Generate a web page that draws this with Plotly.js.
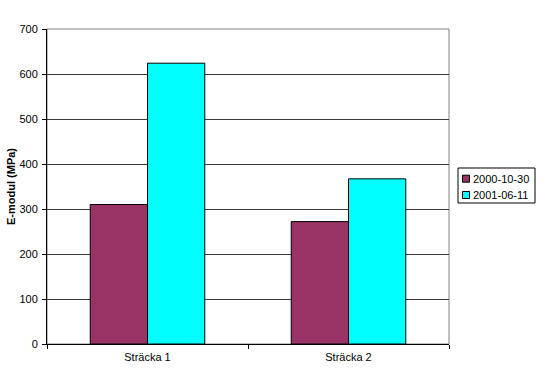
<!DOCTYPE html>
<html>
<head>
<meta charset="utf-8">
<script src="https://cdn.plot.ly/plotly-3.0.1.min.js"></script>
<style>html,body{margin:0;padding:0;background:#fff;}#chart{width:548px;height:383px;}</style>
</head>
<body>
<div id="chart"></div>
<script>
var categories = ['Sträcka 1', 'Sträcka 2'];
var seriesNames = ['2000-10-30', '2001-06-11'];
var seriesColors = ['#993366', '#00FFFF'];
var values2000 = [310, 272];
var values2001 = [624, 367];
var yTicks = [0, 100, 200, 300, 400, 500, 600, 700];

var W = 548, H = 383;
var M = {l: 47, r: 99, t: 29, b: 39};
var PW = W - M.l - M.r, PH = H - M.t - M.b;
function px(x) { return (x - M.l) / PW; }
function py(y) { return (H - M.b - y) / PH; }

var traces = [
  {type: 'bar', name: seriesNames[0], x: categories, y: values2000,
   marker: {color: seriesColors[0], line: {color: '#000', width: 1}}},
  {type: 'bar', name: seriesNames[1], x: categories, y: values2001,
   marker: {color: seriesColors[1], line: {color: '#000', width: 1}}}
];

// legend (drawn manually to match the original compact box)
var shapes = [
  {type: 'rect', xref: 'paper', yref: 'paper', x0: 0, x1: 1, y0: 0, y1: 1,
   line: {color: '#808080', width: 1}, layer: 'below'},
  {type: 'rect', xref: 'paper', yref: 'paper', x0: px(458), x1: px(535), y0: py(203), y1: py(168),
   line: {color: '#000', width: 1}, fillcolor: '#fff', layer: 'above'}
];
var annotations = [];
var rowY = [178.7, 195];
seriesNames.forEach(function (n, i) {
  shapes.push({type: 'rect', xref: 'paper', yref: 'paper',
    x0: px(462.5), x1: px(469.5), y0: py(rowY[i] + 3.5), y1: py(rowY[i] - 3.5),
    line: {color: '#000', width: 1}, fillcolor: seriesColors[i], layer: 'above'});
  annotations.push({xref: 'paper', yref: 'paper', x: px(471), y: py(rowY[i]),
    xanchor: 'left', yanchor: 'middle', text: n, showarrow: false,
    font: {size: 11, color: '#000'}});
});

var layout = {
  width: W, height: H,
  margin: {l: M.l, r: M.r, t: M.t, b: M.b, pad: 0, autoexpand: false},
  paper_bgcolor: '#fff', plot_bgcolor: '#fff',
  font: {family: 'Liberation Sans, Arial, sans-serif', size: 11, color: '#000'},
  barmode: 'group', bargap: 0.43, bargroupgap: 0,
  showlegend: false,
  xaxis: {type: 'category', showline: true, linecolor: '#000', linewidth: 1,
    ticks: 'outside', tickson: 'boundaries', ticklen: 4, tickcolor: '#000',
    ticklabelstandoff: 3,
    showgrid: false, zeroline: false, fixedrange: true},
  yaxis: {range: [0, 700], tickvals: yTicks, showline: true, linecolor: '#000', linewidth: 1,
    ticks: 'outside', ticklen: 4, tickcolor: '#000', ticklabelstandoff: 2,
    showgrid: true, gridcolor: '#3a3a3a', gridwidth: 1, zeroline: false,
    title: {text: '<b>E-modul (MPa)</b>', font: {size: 11}, standoff: 1},
    fixedrange: true},
  shapes: shapes,
  annotations: annotations
};

Plotly.newPlot('chart', traces, layout, {displayModeBar: false, staticPlot: true});
</script>
</body>
</html>
